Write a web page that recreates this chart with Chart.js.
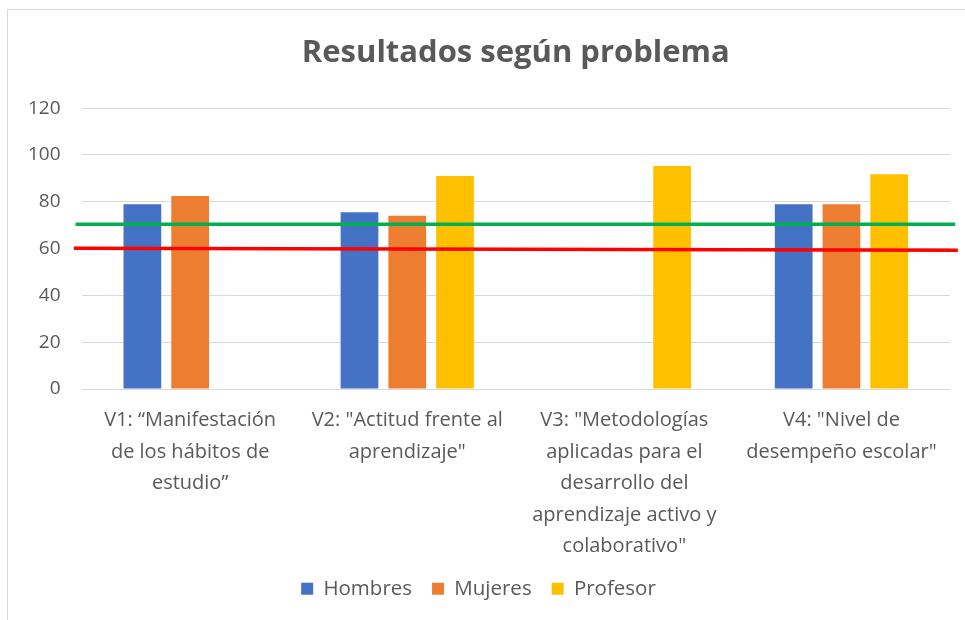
<!DOCTYPE html>
<html>
<head>
<meta charset="utf-8">
<script src="https://cdn.jsdelivr.net/npm/chart.js@4"></script>
<style>
    body { margin: 0; background: #ffffff; }
    #wrap { position: absolute; left: 0; top: 0; width: 965px; height: 620px; }
    #frame { position: absolute; left: 7px; top: 9px; width: 970px; height: 620px;
             border-left: 1px solid #d9d9d9; border-top: 1px solid #d9d9d9; }
</style>
</head>
<body>
<div id="frame"></div>
<div id="wrap"><canvas id="chart" width="965" height="620"></canvas></div>
<script>
const categories = [
    ['V1: “Manifestación', 'de los hábitos de', 'estudio”'],
    ['V2: "Actitud frente al', 'aprendizaje"'],
    ['V3: "Metodologías', 'aplicadas para el', 'desarrollo del', 'aprendizaje activo y', 'colaborativo"'],
    ['V4: "Nivel de', 'desempeño escolar"']
];
const hombres = [79, 75.5, null, 79];
const mujeres = [82.5, 74, null, 79];
const profesor = [null, 91, 95.3, 91.8];

// lineas de referencia: x en fraccion del area (inicio, fin), y en valores
const verdeX = [-0.007, 1.006];
const verde = [70.4, 70.4];
const rojoX = [-0.009, 1.009];
const rojo = [60.2, 59.3];

const yTicks = [0, 20, 40, 60, 80, 100, 120];

const gray = '#595959';
const font = "'Open Sans', 'Liberation Sans', sans-serif";

// las lineas van como plugin: como datasets en otro eje x, Chart.js 4.5 parte el grupo de barras
const refLines = {
    id: 'refLines',
    afterDatasetsDraw(chart) {
        const { ctx, scales } = chart;
        const xs = scales.xl;
        const ys = scales.y;
        [[verdeX, verde, '#00B050'], [rojoX, rojo, '#FF0000']].forEach(([xv, yv, color]) => {
            ctx.save();
            ctx.strokeStyle = color;
            ctx.lineWidth = 3.5;
            ctx.beginPath();
            yv.forEach((v, i) => {
                const px = xs.getPixelForValue(xv[i]);
                const py = ys.getPixelForValue(v);
                i === 0 ? ctx.moveTo(px, py) : ctx.lineTo(px, py);
            });
            ctx.stroke();
            ctx.restore();
        });
    }
};

new Chart(document.getElementById('chart'), {
    type: 'bar',
    data: {
        labels: categories,
        datasets: [
            { label: 'Hombres', data: hombres, backgroundColor: '#4472C4' },
            { label: 'Mujeres', data: mujeres, backgroundColor: '#ED7D31' },
            { label: 'Profesor', data: profesor, backgroundColor: '#FFC000' }
        ]
    },
    plugins: [refLines],
    options: {
        responsive: false,
        animation: false,
        datasets: {
            bar: { categoryPercentage: 0.66, barPercentage: 0.79 }
        },
        layout: { padding: { left: 7, right: 15, top: 25, bottom: 11 } },
        plugins: {
            title: {
                display: true,
                fullSize: false,
                text: 'Resultados según problema',
                color: gray,
                font: { family: font, size: 31, weight: 'bold' },
                padding: { top: 10, bottom: 36 }
            },
            legend: {
                position: 'bottom',
                labels: {
                    color: gray,
                    boxWidth: 12,
                    boxHeight: 12,
                    padding: 20,
                    font: { family: font, size: 20.5 }
                }
            },
            tooltip: { enabled: false }
        },
        scales: {
            x: {
                grid: { display: false },
                border: { display: false },
                afterFit: scale => { scale.height -= 12; },
                ticks: {
                    color: gray,
                    maxRotation: 0,
                    autoSkip: false,
                    padding: 8,
                    font: { family: font, size: 20, lineHeight: 1.575 }
                }
            },
            xl: {
                type: 'linear',
                display: false,
                offset: false,
                min: 0,
                max: 1
            },
            y: {
                min: 0,
                max: 120,
                afterBuildTicks: axis => { axis.ticks = yTicks.map(v => ({ value: v })); },
                grid: { color: '#d9d9d9', lineWidth: 1, drawTicks: false },
                border: { display: false },
                ticks: {
                    color: gray,
                    padding: 21,
                    font: { family: font, size: 19 }
                }
            }
        }
    }
});
</script>
</body>
</html>
